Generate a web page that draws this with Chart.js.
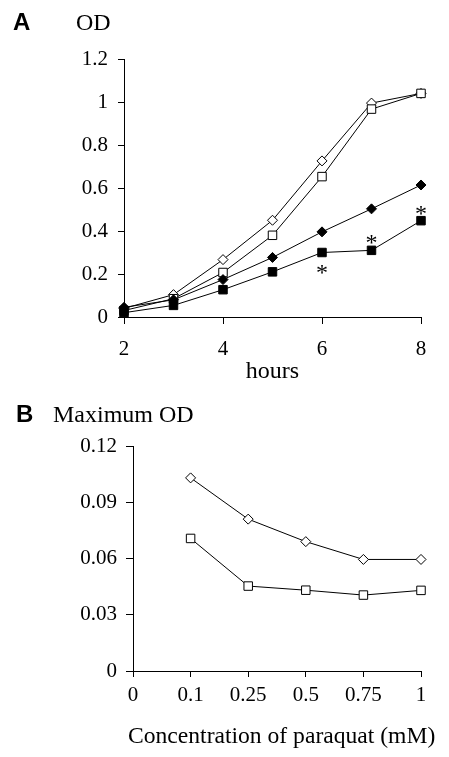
<!DOCTYPE html>
<html>
<head>
<meta charset="utf-8">
<script src="https://cdn.jsdelivr.net/npm/chart.js@4"></script>
<style>
    body { margin: 0; background: #fff; }
    #page { position: relative; width: 449px; height: 757px; overflow: hidden; background: #fff; }
    .box { position: absolute; left: 0; }
    .lbl { position: absolute; font-family: 'Liberation Serif', serif; font-size: 24px; line-height: 24px; color: #000; white-space: nowrap; }
    .panel { position: absolute; font-family: 'Liberation Sans', Arial, sans-serif; font-weight: bold; font-size: 24px; line-height: 24px; color: #000; }
</style>
</head>
<body>
<div id="page">
    <div class="box" style="top:380px"><canvas id="chartB" width="449" height="377"></canvas></div>
    <div class="box" style="top:0"><canvas id="chartA" width="449" height="386"></canvas></div>
    <div class="panel" style="left:13px;top:10px">A</div>
    <div class="lbl" style="left:76px;top:10px">OD</div>
    <div class="panel" style="left:16px;top:402px">B</div>
    <div class="lbl" style="left:53px;top:402px">Maximum OD</div>
    <div class="lbl" style="left:128px;top:723px;font-size:23.6px">Concentration of paraquat (mM)</div>
</div>
<script>
// panel A: growth curves
const hours = [2, 3, 4, 5, 6, 7, 8];
const odOpenDiamond = [0.04, 0.104, 0.267, 0.45, 0.726, 0.995, 1.04];
const odOpenSquare = [0.03, 0.085, 0.207, 0.38, 0.653, 0.967, 1.04];
const odFilledDiamond = [0.045, 0.08, 0.174, 0.277, 0.396, 0.503, 0.614];
const odFilledSquare = [0.02, 0.054, 0.127, 0.21, 0.30, 0.31, 0.448];
const asteriskHours = [6, 7, 8];
const asteriskOD = [0.225, 0.365, 0.50];

// panel B: maximum OD vs paraquat
const concLabels = ['0', '0.1', '0.25', '0.5', '0.75', '1'];
const maxOdDiamond = [null, 0.103, 0.081, 0.069, 0.0595, 0.0595];
const maxOdSquare = [null, 0.0707, 0.0453, 0.0431, 0.0405, 0.043];

const SERIF = "'Liberation Serif', 'Times New Roman', serif";
const tickFont = { family: SERIF, size: 21 };
const titleFont = { family: SERIF, size: 24 };

// draws a text asterisk over every point of datasets flagged with `asterisk`
const asteriskPlugin = {
    id: 'asterisks',
    afterDatasetsDraw(chart) {
        const ctx = chart.ctx;
        chart.data.datasets.forEach((ds, i) => {
            if (!ds.asterisk) return;
            chart.getDatasetMeta(i).data.forEach(pt => {
                ctx.save();
                ctx.font = `24px ${SERIF}`;
                ctx.fillStyle = '#000';
                ctx.textAlign = 'center';
                ctx.textBaseline = 'alphabetic';
                ctx.fillText('*', pt.x, pt.y + 11);
                ctx.restore();
            });
        });
    }
};

const fmt = (v) => String(Number(v.toFixed(2)));

const toXY = (xs, ys) => xs.map((x, i) => ({ x, y: ys[i] }));

const series = (data, style, filled, radius) => ({
    data,
    borderColor: '#000',
    borderWidth: 1,
    backgroundColor: filled ? '#000' : '#fff',
    pointStyle: style,
    pointRadius: radius,
    pointBorderWidth: 1,
    pointBorderColor: '#000',
    pointBackgroundColor: filled ? '#000' : '#fff',
    tension: 0,
    fill: false,
    clip: false,
});

const axisBase = {
    border: { color: '#000', width: 1 },
};

new Chart(document.getElementById('chartA'), {
    type: 'line',
    data: {
        datasets: [
            {
                data: toXY(asteriskHours, asteriskOD),
                showLine: false,
                pointRadius: 0,
                asterisk: true,
                clip: false,
            },
            series(toXY(hours, odFilledSquare), 'rect', true, 6),
            series(toXY(hours, odFilledDiamond), 'rectRot', true, 5),
            series(toXY(hours, odOpenSquare), 'rect', false, 6),
            series(toXY(hours, odOpenDiamond), 'rectRot', false, 5),
        ]
    },
    options: {
        responsive: false,
        animation: false,
        layout: { padding: { top: 59, right: 28, left: 0, bottom: 0 } },
        plugins: { legend: { display: false }, tooltip: { enabled: false } },
        scales: {
            x: {
                ...axisBase,
                type: 'linear',
                min: 2,
                max: 8,
                ticks: { stepSize: 2, color: '#000', font: tickFont, padding: 13 },
                grid: { drawOnChartArea: false, tickLength: 7, tickColor: '#000' },
                title: { display: true, text: 'hours', color: '#000', font: titleFont, padding: 0 },
                afterFit: (scale) => { scale.height = 69; },
            },
            y: {
                ...axisBase,
                min: 0,
                max: 1.2,
                ticks: { stepSize: 0.2, color: '#000', font: tickFont, padding: 10, callback: fmt },
                grid: { drawOnChartArea: false, tickLength: 6, tickColor: '#000' },
                afterFit: (scale) => { scale.width = 124; },
            }
        }
    },
    plugins: [asteriskPlugin]
});

new Chart(document.getElementById('chartB'), {
    type: 'line',
    data: {
        labels: concLabels,
        datasets: [
            series(maxOdSquare, 'rect', false, 6),
            series(maxOdDiamond, 'rectRot', false, 5),
        ]
    },
    options: {
        responsive: false,
        animation: false,
        layout: { padding: { top: 66, right: 28, left: 0, bottom: 0 } },
        plugins: { legend: { display: false }, tooltip: { enabled: false } },
        scales: {
            x: {
                ...axisBase,
                ticks: { color: '#000', font: tickFont, padding: 6, autoSkip: false, maxRotation: 0 },
                grid: { drawOnChartArea: false, tickLength: 6, tickColor: '#000' },
                afterFit: (scale) => { scale.height = 86; },
            },
            y: {
                ...axisBase,
                min: 0,
                max: 0.12,
                ticks: { stepSize: 0.03, color: '#000', font: tickFont, padding: 9, callback: fmt },
                grid: { drawOnChartArea: false, tickLength: 7, tickColor: '#000' },
                afterFit: (scale) => { scale.width = 133; },
            }
        }
    }
});
</script>
</body>
</html>
